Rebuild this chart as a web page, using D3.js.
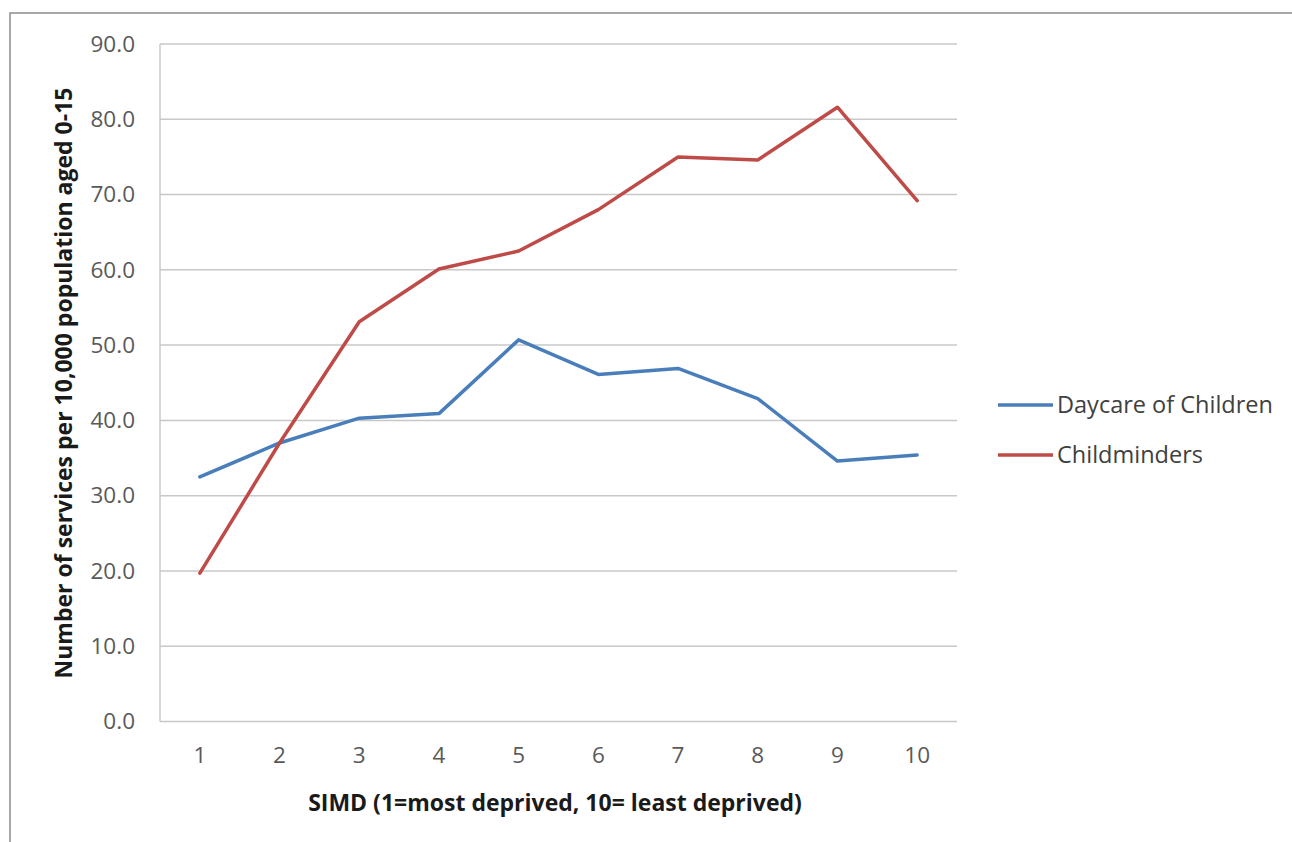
<!DOCTYPE html>
<html><head><meta charset="utf-8">
<script src="https://cdn.jsdelivr.net/npm/d3@7"></script>
<style>body{margin:0;background:#fff;} svg{display:block;}</style>
</head><body>
<script>
const categories = ["1","2","3","4","5","6","7","8","9","10"];
const daycare = [32.5, 37.0, 40.3, 40.9, 50.7, 46.1, 46.9, 42.9, 34.6, 35.4];
const childminders = [19.7, 37.0, 53.1, 60.1, 62.5, 68.0, 75.0, 74.6, 81.6, 69.2];
const yTicks = [0,10,20,30,40,50,60,70,80,90];
const seriesNames = ["Daycare of Children", "Childminders"];
const seriesColors = ["#4a7ebb", "#be4b48"];

(function(){
const W = 1292, H = 842;
const svg = d3.select("body").append("svg").attr("width", W).attr("height", H);
svg.append("rect").attr("x", 10).attr("y", 13).attr("width", 1300).attr("height", 850)
  .attr("fill", "#fff").attr("stroke", "#8c8c8c").attr("stroke-width", 1.5);

const pL = 160, pR = 957, pT = 44, pB = 721.5;
const x = d3.scaleBand().domain(categories).range([pL, pR]);
const y = d3.scaleLinear().domain([0, 90]).range([pB, pT]);
const font = "'Open Sans', sans-serif";

svg.append("g").selectAll("line").data(yTicks).join("line")
  .attr("x1", pL).attr("x2", pR)
  .attr("y1", d => y(d)).attr("y2", d => y(d))
  .attr("stroke", "#c8c8c8").attr("stroke-width", 1.5);
svg.append("line").attr("x1", pL).attr("x2", pL).attr("y1", pT).attr("y2", pB)
  .attr("stroke", "#c8c8c8").attr("stroke-width", 1.5);

const yAxis = d3.axisLeft(y).tickValues(yTicks).tickFormat(d3.format(".1f")).tickSize(0).tickPadding(25);
const gy = svg.append("g").attr("transform", `translate(${pL},0)`).call(yAxis);
gy.select(".domain").remove();
gy.selectAll("text").attr("font-family", font).attr("font-size", 22.5).attr("fill", "#595959");

const xAxis = d3.axisBottom(x).tickSize(0).tickPadding(26);
const gx = svg.append("g").attr("transform", `translate(0,${pB})`).call(xAxis);
gx.select(".domain").remove();
gx.selectAll("text").attr("font-family", font).attr("font-size", 22.5).attr("fill", "#595959");

const line = d3.line().x((d, i) => x(categories[i]) + x.bandwidth() / 2).y(d => y(d));
[daycare, childminders].forEach((s, k) => {
  svg.append("path").datum(s).attr("d", line).attr("fill", "none")
    .attr("stroke", seriesColors[k]).attr("stroke-width", 3.5)
    .attr("stroke-linejoin", "round").attr("stroke-linecap", "round");
});

svg.append("text").attr("x", 555).attr("y", 811).attr("text-anchor", "middle")
  .attr("font-family", font).attr("font-weight", "bold").attr("font-size", 23).attr("fill", "#1a1a1a")
  .text("SIMD (1=most deprived, 10= least deprived)");
svg.append("text").attr("transform", "translate(72,383) rotate(-90)").attr("text-anchor", "middle")
  .attr("font-family", font).attr("font-weight", "bold").attr("font-size", 23).attr("fill", "#1a1a1a")
  .text("Number of services per 10,000 population  aged 0-15");

const lg = svg.append("g");
seriesNames.forEach((n, k) => {
  const ly = 405 + k * 50;
  lg.append("line").attr("x1", 998).attr("x2", 1053).attr("y1", ly).attr("y2", ly)
    .attr("stroke", seriesColors[k]).attr("stroke-width", 3.5);
  lg.append("text").attr("x", 1057).attr("y", ly + 8).attr("font-family", font)
    .attr("font-size", 23.5).attr("fill", "#404040").text(n);
});
})();
</script>
</body></html>
